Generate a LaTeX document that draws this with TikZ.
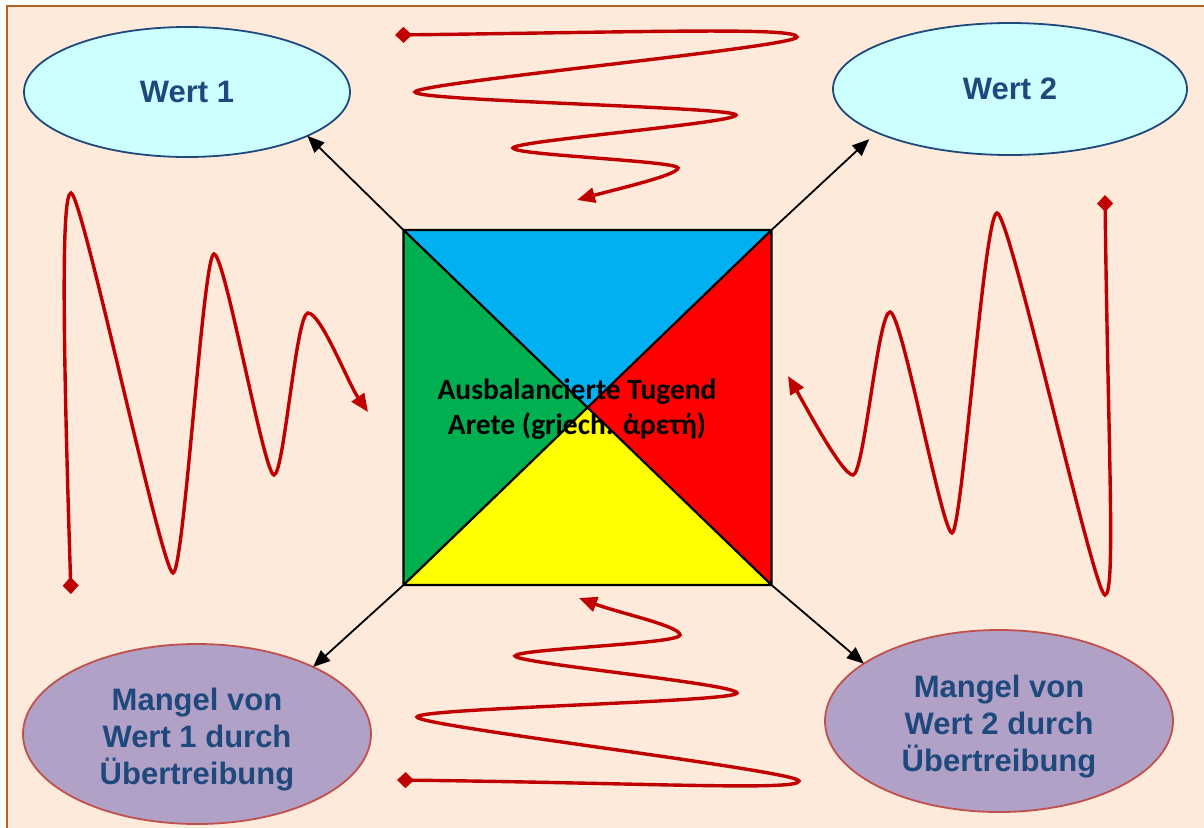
\documentclass[tikz,border=0pt]{standalone}
\usepackage{fontspec}
\usepackage{tikz}
\usetikzlibrary{arrows.meta,shapes.geometric}
\newfontfamily\wertfont{Liberation Sans}
\newfontfamily\tugendfont{Carlito}
\definecolor{peach}{RGB}{253,234,218}
\definecolor{framebrown}{RGB}{184,98,32}
\definecolor{wertblue}{RGB}{31,73,125}
\definecolor{wertfill}{RGB}{204,255,255}
\definecolor{mangelfill}{RGB}{178,161,199}
\definecolor{mangelred}{RGB}{192,80,77}
\definecolor{wavered}{RGB}{192,0,0}
\definecolor{tblue}{RGB}{0,176,240}
\definecolor{tred}{RGB}{255,0,0}
\definecolor{tyellow}{RGB}{255,255,0}
\definecolor{tgreen}{RGB}{0,176,80}

\begin{document}
\begin{tikzpicture}[x=1pt,y=-1pt,
                    wert/.style={ellipse,draw=wertblue,line width=1.8pt,fill=wertfill,
                                 inner sep=0pt,outer sep=0pt,text=wertblue,
                                 font=\wertfont\bfseries\fontsize{31}{37}\selectfont},
                    mangel/.style={ellipse,draw=mangelred,line width=1.8pt,fill=mangelfill,
                                   inner sep=0pt,outer sep=0pt},
                    mangeltext/.style={align=center,text=wertblue,
                                       font=\wertfont\bfseries\fontsize{31}{37}\selectfont},
                    pfeil/.style={-{Triangle[length=17pt,width=14pt]},line width=1.8pt},
                    welle/.style={{Diamond[length=17pt,width=16pt]}-{Triangle[length=18pt,width=15pt]},
                                  draw=wavered,line width=3.4pt}]
    \useasboundingbox (0,0) rectangle (1204,827);
    \clip (0,0) rectangle (1204,827);
    \fill[white] (0,0) rectangle (1204,827);
    \fill[peach] (7,6) rectangle (1220,840);
    \draw[framebrown,line width=2.4pt] (7,6) rectangle (1220,840);

    \node[wert,minimum width=326pt,minimum height=130pt] (w1) at (187,92) {Wert 1};
    \node[wert,minimum width=354pt,minimum height=132pt] (w2) at (1010,89) {Wert 2};
    \node[mangel,minimum width=348pt,minimum height=180pt] (m1) at (197,734) {};
    \node[mangel,minimum width=348pt,minimum height=182pt] (m2) at (999,721) {};
    \node[mangeltext] (m1text) at ([yshift=-6pt]m1.center) {Mangel von\\Wert 1 durch\\Übertreibung};
    \node[mangeltext] (m2text) at ([yshift=-6pt]m2.center) {Mangel von\\Wert 2 durch\\Übertreibung};

    \node[minimum width=368pt,minimum height=355pt,inner sep=0pt,outer sep=0pt] (sq) at (587.5,407.5) {};
    \fill[tblue] (sq.north west) -- (sq.north east) -- (sq.center) -- cycle;
    \fill[tred] (sq.north east) -- (sq.south east) -- (sq.center) -- cycle;
    \fill[tyellow] (sq.south east) -- (sq.south west) -- (sq.center) -- cycle;
    \fill[tgreen] (sq.south west) -- (sq.north west) -- (sq.center) -- cycle;
    \draw[line width=2.2pt] (sq.north west) rectangle (sq.south east)
        (sq.north west) -- (sq.south east) (sq.north east) -- (sq.south west);
    \node[align=center,font=\tugendfont\bfseries\fontsize{29.5}{35}\selectfont] (tugend) at (577,409)
        {Ausbalancierte Tugend\\Arete (griech. ἀρετή)};

    \draw[pfeil] (sq.north west) -- (w1.340);
    \draw[pfeil,shorten >=10pt] (sq.north east) -- (w2.198);
    \draw[pfeil] (sq.south west) -- (m1.30);
    \draw[pfeil] (sq.south east) -- (m2.157);

    \draw[welle] (395,35) .. controls +(250,-3) and +(0,-10) .. (797,37)
        .. controls +(0,10) and +(0,-9) .. (415,92)
        .. controls +(0,9) and +(0,-8) .. (736,115)
        .. controls +(0,8) and +(0,-7) .. (513,148)
        .. controls +(0,7) and +(0,-7) .. (678,168)
        .. controls +(0,7) and +(40,-11) .. (577,200);
    \draw[welle] (71,594) .. controls +(-8,-250) and +(-10,0) .. (71,193)
        .. controls +(11,0) and +(-11,0) .. (173,573)
        .. controls +(11,0) and +(-11,0) .. (214,254)
        .. controls +(11,0) and +(-10,0) .. (274,475)
        .. controls +(10,0) and +(-12,0) .. (308,313)
        .. controls +(13,0) and +(-20,-29) .. (368,412);
    \draw[welle] (1105,195) .. controls +(3,250) and +(11,0) .. (1105,595)
        .. controls +(-11,0) and +(13,0) .. (997,213)
        .. controls +(-13,0) and +(10,0) .. (952,533)
        .. controls +(-10,0) and +(12,0) .. (890,312)
        .. controls +(-12,0) and +(11,0) .. (853,475)
        .. controls +(-11,0) and +(17,29) .. (788,376);
    \draw[welle] (397,780) .. controls +(250,3) and +(0,10) .. (799,781)
        .. controls +(0,-10) and +(0,9) .. (417,717)
        .. controls +(0,-9) and +(0,9) .. (737,693)
        .. controls +(0,-9) and +(0,7) .. (515,656)
        .. controls +(0,-7) and +(0,9) .. (680,635)
        .. controls +(0,-9) and +(40,15) .. (579,598);
\end{tikzpicture}
\end{document}
